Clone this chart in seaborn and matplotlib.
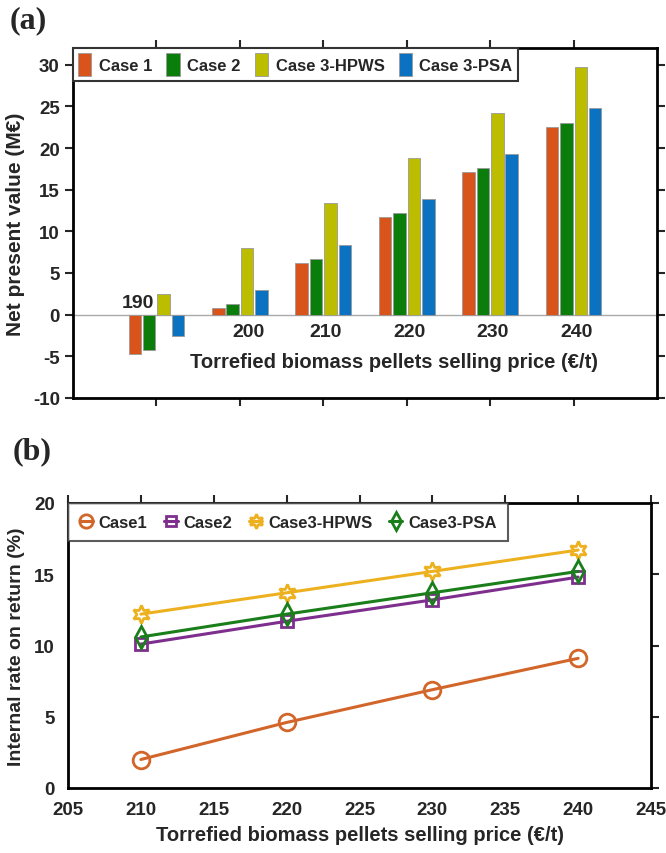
import matplotlib
matplotlib.use("Agg")
import matplotlib.pyplot as plt
import seaborn as sns
import pandas as pd
import numpy as np

# ---- data (a): net present value, M€
prices_a = [190, 200, 210, 220, 230, 240]
cases_a = ["Case 1", "Case 2", "Case 3-HPWS", "Case 3-PSA"]
npv_case1 = [-4.7, 0.8, 6.2, 11.7, 17.1, 22.5]
npv_case2 = [-4.2, 1.3, 6.7, 12.2, 17.6, 23.0]
npv_hpws = [2.5, 8.0, 13.4, 18.8, 24.2, 29.7]
npv_psa = [-2.5, 3.0, 8.4, 13.9, 19.3, 24.8]

# ---- data (b): internal rate on return, %
prices_b = [210, 220, 230, 240]
cases_b = ["Case1", "Case2", "Case3-HPWS", "Case3-PSA"]
irr_case1 = [2.0, 4.6, 6.9, 9.1]
irr_case2 = [10.1, 11.7, 13.2, 14.8]
irr_hpws = [12.2, 13.7, 15.2, 16.7]
irr_psa = [10.6, 12.2, 13.7, 15.2]

sns.set_style("white")
plt.rcParams["font.family"] = ["Liberation Sans", "DejaVu Sans"]
plt.rcParams["axes.unicode_minus"] = False
narrow = ["Liberation Sans Narrow", "Liberation Sans", "DejaVu Sans"]
serif = ["Liberation Serif", "DejaVu Serif"]

fig = plt.figure(figsize=(6.66, 8.54), dpi=100)
ax1 = fig.add_axes([73 / 666, 1 - 399 / 854, 584 / 666, 350 / 854])
ax2 = fig.add_axes([68 / 666, 1 - 789 / 854, 583 / 666, 285 / 854])

# ---------------- (a) bars
df_a = pd.DataFrame({
    "price": np.repeat(prices_a, 4),
    "case": cases_a * len(prices_a),
    "npv": np.column_stack([npv_case1, npv_case2, npv_hpws, npv_psa]).ravel(),
})
bar_colors = ["#D9541A", "#0A7D0A", "#BDBD00", "#0A72C0"]
ax1.axhline(0, color="#aaaaaa", lw=1, zorder=0)
sns.barplot(data=df_a, x="price", y="npv", hue="case", hue_order=cases_a,
            palette=bar_colors, width=0.69, gap=0.13, edgecolor="#9a9a9a",
            linewidth=0.6, saturation=1, ax=ax1, zorder=2)
ax1.set_xlim(-1, 6)
ax1.set_ylim(-10, 32)
ax1.set_yticks(range(-10, 31, 5))
ax1.set_xlabel("")
ax1.set_ylabel("Net present value (M€)", fontsize=15, fontweight="bold")
ax1.yaxis.set_label_coords(-0.082, 0.5)
ax1.tick_params(axis="x", labelbottom=False, top=True, bottom=True)
ax1.tick_params(direction="out", length=6, width=1.5, right=True, left=True)
for lab in ax1.get_yticklabels():
    lab.set_family(narrow)
    lab.set_fontweight("bold")
    lab.set_fontsize(13.5)

# category labels placed along the zero line
for i, p in enumerate(prices_a):
    if i == 0:
        ax1.text(i - 0.22, 1.5, str(p), ha="center", va="center", family=narrow,
                 fontweight="bold", fontsize=14)
    else:
        ax1.text(i + (0.1 if i == 1 else 0.03), -2.0, str(p), ha="center", va="center",
                 family=narrow, fontweight="bold", fontsize=14)
ax1.text(2.85, -5.6, "Torrefied biomass pellets selling price (€/t)", ha="center",
         va="center", family=narrow, fontweight="bold", fontsize=14.5)

leg1 = ax1.legend(ncol=4, loc="upper left", borderaxespad=0, frameon=True,
                  fancybox=False, handlelength=0.8, handleheight=1.7,
                  handletextpad=0.45, columnspacing=0.85, borderpad=0.3,
                  prop={"family": narrow, "weight": "bold", "size": 12})
leg1.get_frame().set_edgecolor("#333333")
leg1.get_frame().set_linewidth(1.5)
leg1.get_frame().set_alpha(1)

# ---------------- (b) lines
line_colors = ["#D2662A", "#7E2F8E", "#EDB120", "#1A7F1A"]
markers = ["o", "s", (6, 1, 0), "d"]
msizes = [12, 9, 13, 11]
for name, vals, c, m, ms in zip(cases_b, [irr_case1, irr_case2, irr_hpws, irr_psa],
                                line_colors, markers, msizes):
    sns.lineplot(x=prices_b, y=vals, color=c, marker=m, markersize=ms,
                 markerfacecolor="none", markeredgecolor=c, markeredgewidth=2,
                 lw=2.2, label=name, ax=ax2)
ax2.set_xlim(205, 245)
ax2.set_ylim(0, 20)
ax2.set_xticks(range(205, 246, 5))
ax2.set_yticks(range(0, 21, 5))
ax2.set_xlabel("Torrefied biomass pellets selling price (€/t)", family=narrow,
               fontweight="bold", fontsize=14.5, labelpad=5)
ax2.set_ylabel("Internal rate on return (%)", fontsize=14, fontweight="bold")
ax2.yaxis.set_label_coords(-0.074, 0.5)
ax2.tick_params(direction="out", length=6, width=1.5, top=True, right=True)
for lab in ax2.get_xticklabels() + ax2.get_yticklabels():
    lab.set_family(narrow)
    lab.set_fontweight("bold")
    lab.set_fontsize(13.5)

leg2 = ax2.legend(ncol=4, loc="upper left", borderaxespad=0, frameon=True,
                  fancybox=False, handlelength=0.8, handletextpad=0.35,
                  columnspacing=1.0, borderpad=0.7, markerscale=0.8,
                  prop={"family": narrow, "weight": "bold", "size": 12})
leg2.get_frame().set_edgecolor("#333333")
leg2.get_frame().set_linewidth(1.5)

for ax in (ax1, ax2):
    for s in ax.spines.values():
        s.set_linewidth(2)
        s.set_color("black")

fig.text(10 / 666, 1 - 21 / 854, "(a)", family=serif, fontweight="bold", fontsize=23,
         va="center", ha="left")
fig.text(13 / 666, 1 - 452 / 854, "(b)", family=serif, fontweight="bold", fontsize=23,
         va="center", ha="left")

fig.savefig("out.png", dpi=100)
